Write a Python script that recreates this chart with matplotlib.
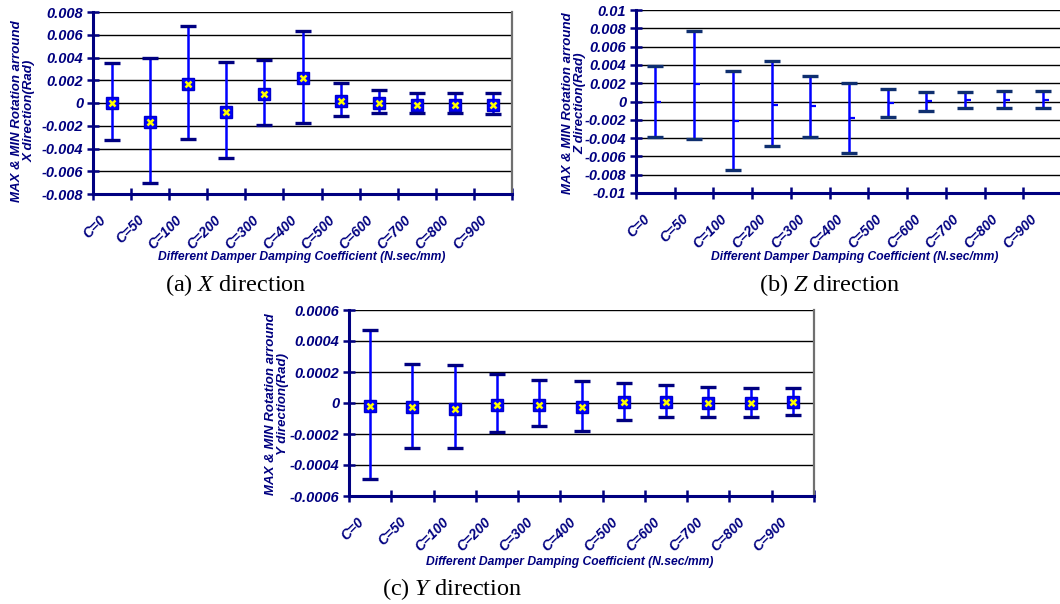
import matplotlib
matplotlib.use('Agg')
import matplotlib.pyplot as plt
import matplotlib.transforms as mtransforms
import numpy as np

# damper cases
cases = ['C=0', 'C=50', 'C=100', 'C=200', 'C=300', 'C=400',
         'C=500', 'C=600', 'C=700', 'C=800', 'C=900']

# rotation about X (rad)
x_max  = [0.0035, 0.0040, 0.0068, 0.0036, 0.00376, 0.00635, 0.00176, 0.00112, 0.00088, 0.00088, 0.00088]
x_min  = [-0.00324, -0.00706, -0.0032, -0.0048, -0.00197, -0.00174, -0.00112, -0.00088, -0.00088, -0.00088, -0.0010]
x_mean = [0.0, -0.00165, 0.00165, -0.0008, 0.00076, 0.00218, 0.00018, 0.0, -0.00015, -0.00015, -0.00015]

# rotation about Z (rad)
z_max  = [0.00385, 0.00767, 0.00334, 0.00444, 0.0028, 0.0020, 0.00132, 0.0010, 0.0010, 0.0012, 0.0012]
z_min  = [-0.00385, -0.00415, -0.00752, -0.0049, -0.00385, -0.0056, -0.00169, -0.0010, -0.0007, -0.0007, -0.0007]
z_mean = [0.0, 0.00187, -0.0021, -0.00033, -0.00048, -0.0018, -0.00018, 0.0001, 0.0002, 0.0002, 0.0002]

# rotation about Y (rad)
y_max  = [0.000468, 0.000252, 0.000243, 0.000187, 0.000147, 0.00014, 0.000131, 0.000114, 0.000106, 0.0001, 0.0001]
y_min  = [-0.00049, -0.00029, -0.00029, -0.00019, -0.000149, -0.000179, -0.000108, -0.00009, -0.00009, -0.00009, -0.000075]
y_mean = [-0.00002, -0.000028, -0.000037, -0.000013, -0.000013, -0.000026, 0.000004, 0.000006, -0.000002, -0.000002, 0.000004]

NAVY = '#000080'
BLUE = '#0000FF'
SANS = 'Liberation Sans'

plt.rcParams['mathtext.fontset'] = 'custom'
plt.rcParams['mathtext.rm'] = 'Liberation Serif'
plt.rcParams['mathtext.it'] = 'Liberation Serif:italic'

fig = plt.figure(figsize=(10.6, 6.04), dpi=100)
W, H = 1060, 604


def px_axes(l, r, t, b):
    return fig.add_axes([l / W, 1 - b / H, (r - l) / W, (b - t) / H])


def panel(ax, vmax, vmin, vmean, lim, step, cap_col, square, xright=10.5):
    x = np.arange(len(cases))
    ax.set_xlim(-0.5, xright)
    ax.set_ylim(-lim, lim)

    # horizontal grid
    ticks = np.arange(-lim, lim + step / 2, step)
    for t in ticks[1:]:
        ax.axhline(t, color='black', lw=1.0, zorder=1)

    ax.vlines(x, vmin, vmax, color=BLUE, lw=1.8, zorder=3)
    ax.plot(x, vmax, ls='none', marker='_', ms=12, mew=2.4, color=cap_col, zorder=4)
    ax.plot(x, vmin, ls='none', marker='_', ms=12, mew=2.4, color=cap_col, zorder=4)
    if square:
        ax.plot(x, vmean, ls='none', marker='s', ms=8.5, mfc=BLUE, mec='#0000CC', zorder=5)
        ax.plot(x, vmean, ls='none', marker='x', ms=4.5, mew=1.8, color='#FFFF00', zorder=6)
    else:
        ax.plot(x, vmean, ls='none', marker=1, ms=4, mew=1.6, color=BLUE, zorder=5)

    # axes styling
    for s in ['left', 'bottom']:
        ax.spines[s].set_color(NAVY)
        ax.spines[s].set_linewidth(2.2)
        ax.spines[s].set_zorder(7)
    ax.spines['top'].set_visible(False)
    ax.spines['right'].set_color('#707070')
    ax.spines['right'].set_linewidth(1.6)

    ax.set_yticks(ticks)
    ax.set_yticklabels([f'{round(v, 6) + 0.0:g}' for v in ticks])
    ax.tick_params(axis='y', direction='inout', length=8, width=1.8, color=NAVY,
                   labelcolor=NAVY, labelsize=10.5, pad=3)
    for lab in ax.get_yticklabels():
        lab.set_fontfamily(SANS)
        lab.set_fontweight('bold')
        lab.set_fontstyle('italic')

    ax.set_xticks(np.arange(-0.5, len(cases)))
    ax.set_xticklabels([])
    ax.tick_params(axis='x', which='major', direction='inout', length=9, width=1.8, color=NAVY)
    ax.set_xticks(x, minor=True)
    ax.set_xticklabels(cases, minor=True, rotation=45, ha='right', va='center',
                       rotation_mode='anchor', fontsize=10, color=NAVY,
                       fontfamily=SANS, fontweight='bold', fontstyle='italic')
    ax.tick_params(axis='x', which='minor', length=0, pad=17)
    off = mtransforms.ScaledTranslation(-8 / 100, 0, fig.dpi_scale_trans)
    for lab in ax.get_xticklabels(minor=True):
        lab.set_transform(lab.get_transform() + off)


def label_text(x, y, s, **kw):
    fig.text(x / W, 1 - y / H, s, color=NAVY, fontfamily=SANS, fontweight='bold',
             fontstyle='italic', ha='center', va='center', **kw)


xlab = 'Different Damper Damping Coefficient (N.sec/mm)'

# (a) X direction
axa = px_axes(93, 512, 12, 194)
panel(axa, x_max, x_min, x_mean, 0.008, 0.002, NAVY, True)
label_text(23, 111, 'MAX & MIN Rotation arround\nX direction(Rad)', rotation=90,
           fontsize=9.5, linespacing=1.05)
label_text(302, 257, xlab, fontsize=8.7)

# (b) Z direction
axb = px_axes(636, 1062, 10, 193)
panel(axb, z_max, z_min, z_mean, 0.01, 0.002, '#0F2F6F', False, xright=10.45)
label_text(574, 103, 'MAX & MIN Rotation arround\nZ direction(Rad)', rotation=90,
           fontsize=9.5, linespacing=1.05)
label_text(855, 257, xlab, fontsize=8.7)

# (c) Y direction
axc = px_axes(349, 814, 310, 496)
panel(axc, y_max, y_min, y_mean, 0.0006, 0.0002, NAVY, True)
label_text(277, 404, 'MAX & MIN Rotation arround\nY direction(Rad)', rotation=90,
           fontsize=9.5, linespacing=1.05)
label_text(570, 562, xlab, fontsize=8.7)

# captions
cap_kw = dict(fontsize=17.5, ha='center', va='center', fontfamily='Liberation Serif')
fig.text(236 / W, 1 - 285 / H, r'(a) $\mathit{X}$ direction', **cap_kw)
fig.text(830 / W, 1 - 285 / H, r'(b) $\mathit{Z}$ direction', **cap_kw)
fig.text(452 / W, 1 - 589 / H, r'(c) $\mathit{Y}$ direction', **cap_kw)

fig.savefig('out.png', dpi=100, facecolor='white')
